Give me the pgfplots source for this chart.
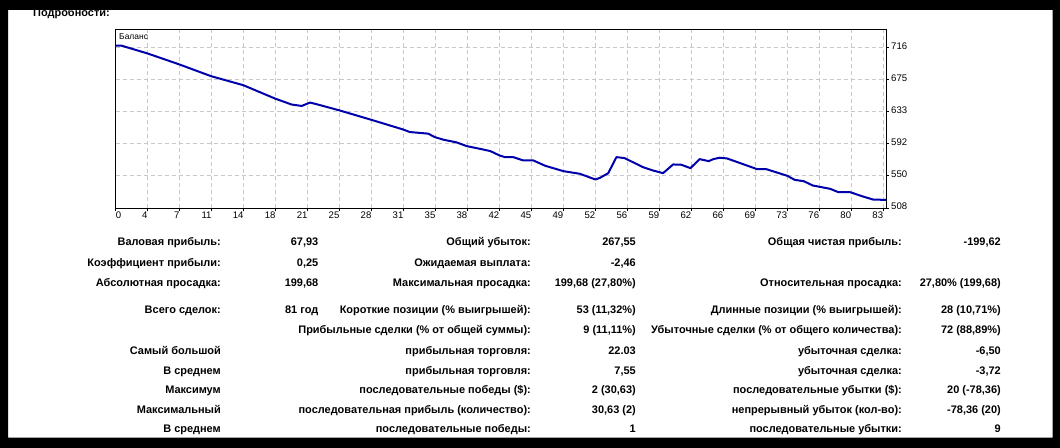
\documentclass[border=0pt]{standalone}
\usepackage{fontspec}
\setmainfont{Liberation Sans}
\usepackage{pgfplots}
\pgfplotsset{compat=1.18}
\definecolor{bal}{RGB}{0,0,170}
\definecolor{gridc}{RGB}{200,200,200}
\newcommand\tb{\fontsize{11}{13}\selectfont\bfseries}
\newcommand\trow[7]{%
  \node[anchor=base east] at (221,{448-#1}) {#2};
  \node[anchor=base east] at (318.5,{448-#1}) {#3};
  \node[anchor=base east] at (531,{448-#1}) {#4};
  \node[anchor=base east] at (636,{448-#1}) {#5};
  \node[anchor=base east] at (902,{448-#1}) {#6};
  \node[anchor=base east] at (1001,{448-#1}) {#7};
}
\begin{document}
\begin{tikzpicture}
\fill[white] (0,0) rectangle (1060bp,448bp);
\begin{axis}[
  at={(115.7bp,239.7bp)}, anchor=south west,
  scale only axis, width=770.3bp, height=179bp,
  xmin=0, xmax=84.3, ymin=507.5, ymax=739.4,
  axis line style={black, line width=1bp},
  xtick={3.5,7,10.5,14,17.5,21,24.5,28,31.5,35,38.5,42,45.5,49,52.5,56,59.5,63,66.5,70,73.5,77,80.5,84},
  xticklabels={4,7,11,14,18,21,25,28,31,35,38,42,45,49,52,56,59,62,66,69,73,76,80,83},
  extra x ticks={0}, extra x tick labels={0},
  extra x tick style={grid=none, xticklabel style={anchor=north west}},
  ytick={508,549.6,591.2,632.8,674.4,716},
  yticklabels={508,550,592,633,675,716},
  xtick pos=left, ytick pos=right, yticklabel pos=right,
  tick align=outside, major tick length=3bp,
  tick style={black, line width=0.8bp},
  grid=major,
  major grid style={gridc, dash pattern=on 4bp off 3bp, line width=0.8bp},
  tick label style={font=\fontsize{9.6}{11}\selectfont, text=black},
  xticklabel style={anchor=north east, inner sep=0pt, yshift=-0.5bp},
  yticklabel style={anchor=west, inner sep=0pt, yshift=1.5bp, xshift=2bp},
  /pgf/number format/assume math mode=true,
]
\addplot[bal, line width=2bp, line join=round] coordinates {
(0,718.1) (0.66,718.1) (3.46,708.2) (6.96,693.9) (10.43,678.7) (13.96,667.0)
(17.43,649.7) (19.26,641.9) (20.36,640.1) (21.26,644.5) (22.0,642.3) (24.44,634.5)
(27.9,622.4) (31.4,609.8) (32.2,606.3) (34.2,604.2) (34.9,599.8) (35.85,596.4)
(37.3,592.9) (38.4,588.1) (40.0,584.2) (41.0,581.6) (42.0,576.0) (42.6,573.8)
(43.5,573.8) (44.6,569.5) (45.7,569.5) (47.0,562.6) (49.0,555.6) (50.8,552.2)
(52.5,544.8) (53.0,547.0) (53.9,553.0) (54.8,573.8) (55.7,572.5) (57.7,560.8)
(58.8,556.5) (59.9,553.0) (61.0,564.3) (61.9,563.9) (62.9,559.5) (63.9,571.2)
(64.9,568.6) (65.4,571.2) (66.1,573.0) (66.9,572.1) (70.2,558.2) (71.2,558.2)
(73.5,549.6) (74.3,544.4) (75.3,542.6) (76.3,537.0) (78.2,532.7) (79.1,528.3)
(80.4,528.3) (81.8,522.7) (82.9,518.8) (84.3,518.4)
};
\end{axis}
\begin{scope}[x=1bp, y=1bp, every node/.style={inner sep=0pt, font=\tb, text=black}]
\node[anchor=west, font=\fontsize{8.5}{10}\selectfont] at (119,411) {Баланс};
\node[anchor=base west] at (33,431.8) {Подробности:};
\trow{245.7}{Валовая прибыль:}{67,93}{Общий убыток:}{267,55}{Общая чистая прибыль:}{-199,62}
\trow{266.2}{Коэффициент прибыли:}{0,25}{Ожидаемая выплата:}{-2,46}{}{}
\trow{286.7}{Абсолютная просадка:}{199,68}{Максимальная просадка:}{199,68 (27,80\%)}{Относительная просадка:}{27,80\% (199,68)}
\trow{313.7}{Всего сделок:}{81 год}{Короткие позиции (\% выигрышей):}{53 (11,32\%)}{Длинные позиции (\% выигрышей):}{28 (10,71\%)}
\trow{333.7}{}{}{Прибыльные сделки (\% от общей суммы):}{9 (11,11\%)}{Убыточные сделки (\% от общего количества):}{72 (88,89\%)}
\trow{354.7}{Самый большой}{}{прибыльная торговля:}{22.03}{убыточная сделка:}{-6,50}
\trow{374.2}{В среднем}{}{прибыльная торговля:}{7,55}{убыточная сделка:}{-3,72}
\trow{393.7}{Максимум}{}{последовательные победы (\$):}{2 (30,63)}{последовательные убытки (\$):}{20 (-78,36)}
\trow{413.2}{Максимальный}{}{последовательная прибыль (количество):}{30,63 (2)}{непрерывный убыток (кол-во):}{-78,36 (20)}
\trow{432.7}{В среднем}{}{последовательные победы:}{1}{последовательные убытки:}{9}
\fill[black, even odd rule] (0,0) rectangle (1060,448) (8,10.3) rectangle (1052.7,438);
\end{scope}
\end{tikzpicture}
\end{document}
